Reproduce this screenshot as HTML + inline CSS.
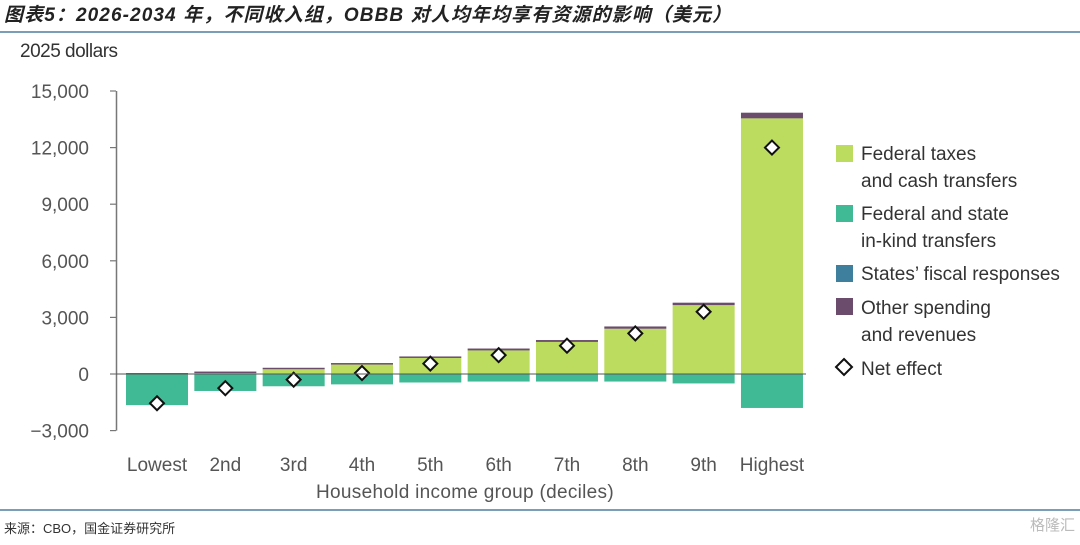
<!DOCTYPE html>
<html><head><meta charset="utf-8"><style>
body{margin:0;width:1080px;height:540px;background:#fff;overflow:hidden;font-family:"Liberation Sans","Noto Sans CJK SC",sans-serif;}
svg text{font-family:"Liberation Sans","Noto Sans CJK SC",sans-serif;}
</style></head><body>
<svg id="c" width="1080" height="540">
<text x="4" y="21" font-size="19" font-style="italic" font-weight="bold" fill="#222" letter-spacing="1.1">图表5：2026-2034 年，不同收入组，OBBB 对人均年均享有资源的影响（美元）</text>
<line x1="0" y1="32" x2="1080" y2="32" stroke="#4f7f9f" stroke-width="1.5"/>
<text x="20" y="57" font-size="19" fill="#333" letter-spacing="-0.5">2025 dollars</text>
<g id="axis"></g><g id="bars"></g><g id="dots"></g>
<text x="465" y="498" font-size="19" fill="#555" text-anchor="middle" letter-spacing="0.3">Household income group (deciles)</text>
<g font-size="19" fill="#333">
<rect x="836" y="145" width="17" height="17" fill="#bcdc5f"/><text x="861" y="160">Federal taxes</text><text x="861" y="187">and cash transfers</text>
<rect x="836" y="205" width="17" height="17" fill="#3fba94"/><text x="861" y="220">Federal and state</text><text x="861" y="247">in-kind transfers</text>
<rect x="836" y="265" width="17" height="17" fill="#3d7f9d"/><text x="861" y="280">States’ fiscal responses</text>
<rect x="836" y="298" width="17" height="17" fill="#6b4c6c"/><text x="861" y="314">Other spending</text><text x="861" y="341">and revenues</text>
<path d="M844 359 L852 367 L844 375 L836 367 Z" fill="#fff" stroke="#111" stroke-width="2"/><text x="861" y="375">Net effect</text>
</g>
<line x1="0" y1="510" x2="1080" y2="510" stroke="#4f7f9f" stroke-width="1.5"/>
<text x="4" y="533" font-size="13" fill="#333">来源：CBO，国金证券研究所</text>
<text x="1075" y="530" font-size="15" fill="#bbb" text-anchor="end">格隆汇</text>
</svg>
<script>
const categories=["Lowest","2nd","3rd","4th","5th","6th","7th","8th","9th","Highest"];
const federalTaxes=[0,50,250,500,850,1250,1700,2400,3650,13550];
const inKind=[-1650,-900,-650,-550,-450,-400,-400,-400,-500,-1800];
const statesFiscal=[0,0,0,0,0,0,0,0,0,0];
const otherSpending=[50,80,80,80,80,100,100,120,130,300];
const netEffect=[-1550,-750,-300,50,550,1000,1500,2150,3300,12000];
const yTicks=[15000,12000,9000,6000,3000,0,-3000];
const yTickLabels=["15,000","12,000","9,000","6,000","3,000","0","\u22123,000"];
const NS="http://www.w3.org/2000/svg";
const y=v=>374-v*283/15000;
const xc=i=>157+i*68.33;
const BW=62;
function mk(tag,attrs,parent){const e=document.createElementNS(NS,tag);for(const k in attrs)e.setAttribute(k,attrs[k]);parent.appendChild(e);return e;}
const ax=document.getElementById('axis'),bars=document.getElementById('bars'),dots=document.getElementById('dots');
let l=mk('line',{x1:116.5,y1:y(15000),x2:116.5,y2:y(-3000),stroke:'#777','stroke-width':1.5},ax);


yTicks.forEach((v,i)=>{
 const t=mk('line',{x1:110,x2:116,y1:y(v),y2:y(v),stroke:'#777','stroke-width':1.2},ax);
 
 
 const tx=mk('text',{x:89,y:y(v)+7,'font-size':19,fill:'#555','text-anchor':'end'},ax);
 tx.textContent=yTickLabels[i];
 
 
});
categories.forEach((c,i)=>{
 const x=xc(i)-BW/2;
 const g=mk('rect',{x:x,y:y(federalTaxes[i]),width:BW,height:y(0)-y(federalTaxes[i]),fill:'#bcdc5f'},bars);
 
 
 const topG=federalTaxes[i]+statesFiscal[i];
 const s=mk('rect',{x:x,y:y(topG),width:BW,height:y(federalTaxes[i])-y(topG),fill:'#3d7f9d'},bars);
 
 
 const o=mk('rect',{x:x,y:y(topG+otherSpending[i]),width:BW,height:y(topG)-y(topG+otherSpending[i]),fill:'#6b4c6c'},bars);
 
 
 const k=mk('rect',{x:x,y:y(0),width:BW,height:y(inKind[i])-y(0),fill:'#3fba94'},bars);
 
 
 const d=mk('path',{d:`M${xc(i)} ${y(netEffect[i])-7} l7 7 l-7 7 l-7 -7 Z`,fill:'#fff',stroke:'#111','stroke-width':2},dots);
 
 
 const t=mk('text',{x:xc(i),y:471,'font-size':19,fill:'#555','text-anchor':'middle'},ax);
 t.textContent=c;
 
 
});
const z=mk('line',{x1:116,x2:806,y1:y(0),y2:y(0),stroke:'#555','stroke-width':1},dots);


dots.parentNode.appendChild(dots);
</script>
</body></html>
